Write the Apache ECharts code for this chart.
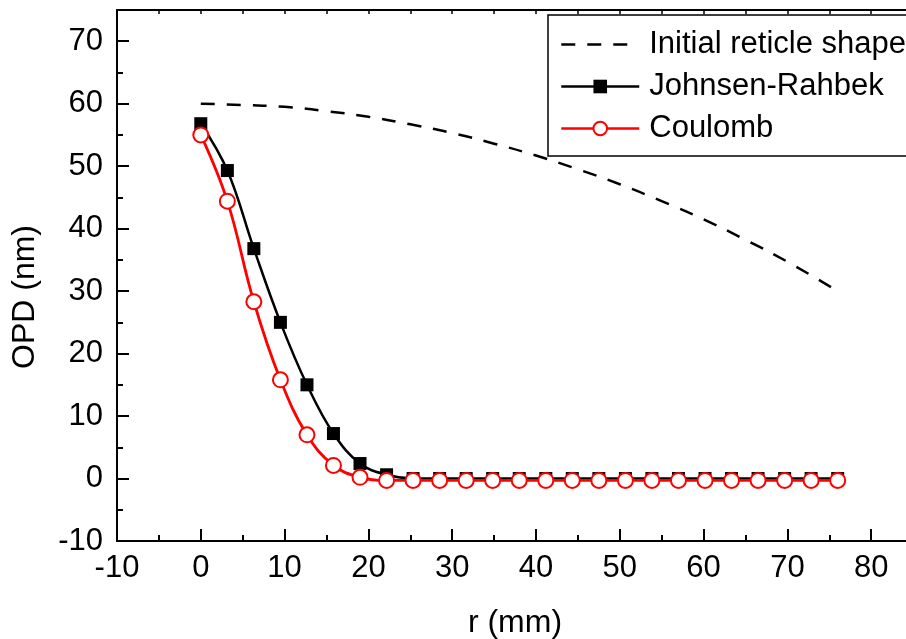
<!DOCTYPE html>
<html>
<head>
<meta charset="utf-8">
<script src="https://cdn.jsdelivr.net/npm/echarts@6/dist/echarts.min.js"></script>
<style>
  html, body { margin: 0; padding: 0; background: #fff; }
  #chart { width: 906px; height: 639px; }
</style>
</head>
<body>
<div id="chart"></div>
<script>
// initial reticle shape (dashed)
const reticleR = [0, 5, 10, 15, 20, 25, 30, 35, 40, 45, 50, 55, 60, 65, 70, 76];
const reticleOPD = [60, 59.8, 59.5, 58.8, 57.9, 56.7, 55.3, 53.6, 51.7, 49.5, 47.1, 44.4, 41.5, 38.2, 34.7, 30];

// sample radii (mm)
const radii = [0, 3.17, 6.33, 9.5, 12.67, 15.83, 19, 22.17, 25.33, 28.5, 31.67, 34.83, 38,
    41.17, 44.33, 47.5, 50.67, 53.83, 57, 60.17, 63.33, 66.5, 69.67, 72.83, 76];
const jrOPD = [56.8, 49.3, 36.8, 25, 15, 7.2, 2.4, 0.6, 0, 0, 0, 0, 0,
    0, 0, 0, 0, 0, 0, 0, 0, 0, 0, 0, 0];
const coulombOPD = [55, 44.4, 28.3, 15.8, 7.0, 2.1, 0.2, -0.3, -0.3, -0.3, -0.3, -0.3, -0.3,
    -0.3, -0.3, -0.3, -0.3, -0.3, -0.3, -0.3, -0.3, -0.3, -0.3, -0.3, -0.3];

const xTicks = [-10, 90, 10];
const yTicks = [-10, 75, 10];

function pairs(xs, ys) {
    return xs.map(function (x, i) { return [x, ys[i]]; });
}

const font = "'Liberation Sans', Arial, sans-serif";
var myChart = echarts.init(document.getElementById('chart'));

var option = {
    animation: false,
    textStyle: { fontFamily: font },
    grid: { left: 117, top: 10, width: 838, height: 531, outerBoundsMode: 'none', containLabel: false },
    legend: {
        orient: 'vertical',
        left: 548,
        top: 15,
        padding: [14, 60, 12, 12],
        borderColor: '#000',
        borderWidth: 1.5,
        itemWidth: 78,
        itemHeight: 17,
        itemGap: 11,
        lineStyle: { width: 2.5 },
        textStyle: { fontSize: 31, color: '#000', fontFamily: font, lineHeight: 30, padding: [0, 0, 0, 5] },
        data: [
            { name: 'Initial reticle shape', itemStyle: { opacity: 0 } },
            'Johnsen-Rahbek',
            'Coulomb'
        ]
    },
    xAxis: [{
        type: 'value',
        position: 'bottom',
        min: xTicks[0], max: xTicks[1], interval: xTicks[2],
        name: 'r (mm)',
        nameLocation: 'middle',
        nameGap: 66,
        nameTextStyle: { fontSize: 32, color: '#000', padding: [0, 42, 0, 0] },
        axisLine: { onZero: false, lineStyle: { color: '#000', width: 2 } },
        axisTick: { inside: true, length: 12, lineStyle: { width: 2 } },
        minorTick: { show: true, splitNumber: 2, length: 6, lineStyle: { color: '#000', width: 2 } },
        axisLabel: { fontSize: 31, color: '#000', margin: 12 },
        splitLine: { show: false }
    }, {
        type: 'value',
        position: 'top',
        min: xTicks[0], max: xTicks[1], interval: 5,
        axisLine: { onZero: false, lineStyle: { color: '#000', width: 2 } },
        axisTick: { inside: true, length: 4, lineStyle: { width: 1.5 } },
        axisLabel: { show: false },
        splitLine: { show: false }
    }],
    yAxis: [{
        type: 'value',
        position: 'left',
        min: yTicks[0], max: yTicks[1], interval: yTicks[2],
        name: 'OPD (nm)',
        nameLocation: 'middle',
        nameGap: 76,
        nameTextStyle: { fontSize: 32, color: '#000', padding: [0, 43, 0, 0] },
        axisLine: { onZero: false, lineStyle: { color: '#000', width: 2 } },
        axisTick: { inside: true, length: 12, lineStyle: { width: 2 } },
        axisLabel: { fontSize: 31, color: '#000', margin: 14, showMaxLabel: false },
        splitLine: { show: false }
    }, {
        type: 'value',
        position: 'left',
        min: yTicks[0], max: yTicks[1], interval: 5,
        axisLine: { show: false, onZero: false },
        axisTick: { inside: true, length: 6, lineStyle: { color: '#000', width: 2 } },
        axisLabel: { show: false },
        splitLine: { show: false }
    }],
    series: [{
        name: 'Initial reticle shape',
        type: 'line',
        smooth: true,
        symbol: 'none',
        data: pairs(reticleR, reticleOPD),
        lineStyle: { color: '#000', width: 2.5, type: [14, 12] },
        itemStyle: { color: '#000' }
    }, {
        name: 'Johnsen-Rahbek',
        type: 'line',
        smooth: 0.4,
        symbol: 'rect',
        symbolSize: 13,
        data: pairs(radii, jrOPD),
        lineStyle: { color: '#000', width: 2.5 },
        itemStyle: { color: '#000' }
    }, {
        name: 'Coulomb',
        type: 'line',
        smooth: 0.4,
        symbol: 'circle',
        symbolSize: 15,
        data: pairs(radii, coulombOPD),
        lineStyle: { color: '#ff0000', width: 2.8 },
        itemStyle: { color: '#fff', borderColor: '#ff0000', borderWidth: 2 }
    }]
};
option && myChart.setOption(option);
</script>
</body>
</html>
